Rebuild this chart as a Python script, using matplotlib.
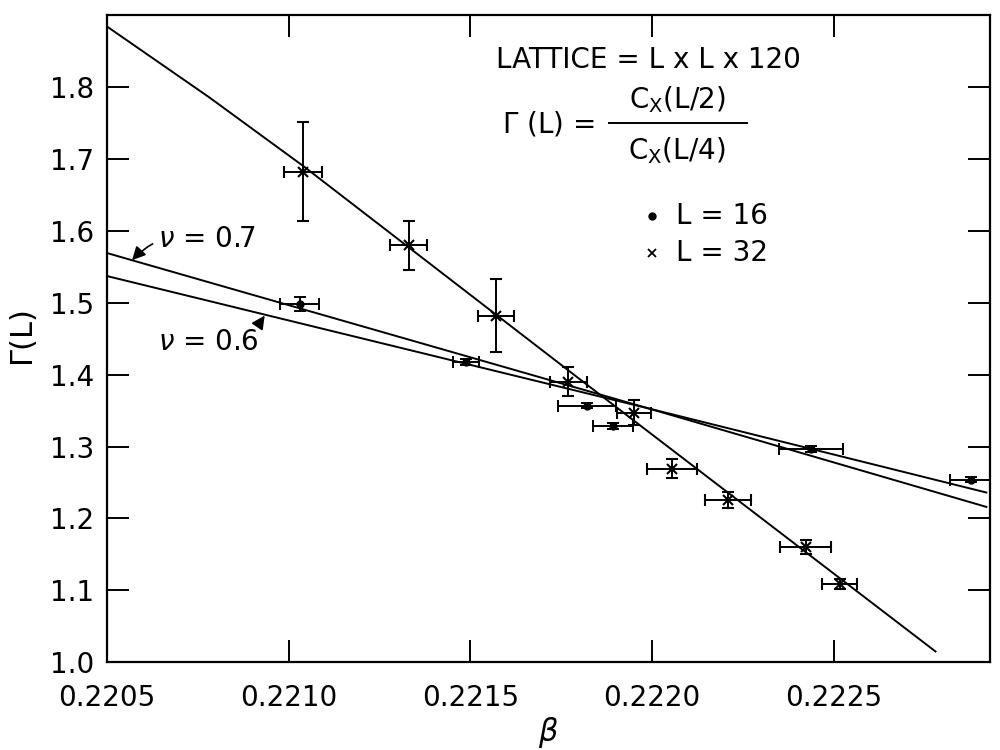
import numpy as np
import matplotlib.pyplot as plt

# L = 32 data (crosses)
beta32 = [0.22104, 0.22133, 0.22157, 0.22177, 0.22195, 0.222055, 0.22221, 0.222423, 0.222516]
gam32 = [1.682, 1.580, 1.482, 1.390, 1.347, 1.269, 1.226, 1.160, 1.109]
gerr32 = [0.069, 0.034, 0.051, 0.020, 0.017, 0.013, 0.011, 0.010, 0.007]
berr32 = [0.000052, 0.00005, 0.00005, 0.00005, 0.000047, 0.00007, 0.000063, 0.00007, 0.000048]

# L = 16 data (dots)
beta16 = [0.22103, 0.221489, 0.221821, 0.221893, 0.222437, 0.222879]
gam16 = [1.498, 1.417, 1.357, 1.329, 1.297, 1.254]
gerr16 = [0.010, 0.004, 0.004, 0.004, 0.004, 0.004]
berr16 = [0.000053, 0.000036, 0.00008, 0.000055, 0.000088, 0.00006]

# fitted curves
fit32_b = [0.2205, 0.22064, 0.22078, 0.22091, 0.22104, 0.2218, 0.22278]
fit32_g = [1.884, 1.835, 1.786, 1.738, 1.690, 1.394, 1.015]
nu07_b = [0.2205, 0.22199, 0.22292]
nu07_g = [1.569, 1.353, 1.216]
nu06_b = [0.2205, 0.22199, 0.22292]
nu06_g = [1.537, 1.353, 1.236]

fig = plt.figure(figsize=(10, 7.5), dpi=100)
ax = fig.add_axes([0.107, 0.117, 0.883, 0.863])

ax.plot(fit32_b, fit32_g, color="black", lw=1.4)
ax.plot(nu07_b, nu07_g, color="black", lw=1.4)
ax.plot(nu06_b, nu06_g, color="black", lw=1.4)

ax.errorbar(beta32, gam32, yerr=gerr32, xerr=berr32, fmt="x", color="black",
            ms=7, mew=1.5, elinewidth=1.4, capsize=4, capthick=1.4)
ax.errorbar(beta16, gam16, yerr=gerr16, xerr=berr16, fmt="o", color="black",
            ms=5, elinewidth=1.4, capsize=4, capthick=1.4)

ax.set_xlim(0.2205, 0.22293)
ax.set_ylim(1.0, 1.9)
ax.set_xticks([0.2205, 0.2210, 0.2215, 0.2220, 0.2225])
ax.set_xticklabels(["0.2205", "0.2210", "0.2215", "0.2220", "0.2225"])
ax.set_yticks([1.0, 1.1, 1.2, 1.3, 1.4, 1.5, 1.6, 1.7, 1.8])
ax.tick_params(direction="in", length=16, width=1.4, labelsize=20,
               top=True, right=True)
ax.tick_params(axis="x", pad=16)
ax.tick_params(axis="y", pad=9)
for s in ax.spines.values():
    s.set_linewidth(1.6)

ax.set_xlabel(r"$\beta$", fontsize=22, labelpad=2)
ax.set_ylabel(r"$\Gamma$(L)", fontsize=22, labelpad=8)

# nu labels with arrows
ax.annotate(r"$\nu$ = 0.7", xy=(0.220569, 1.559), xytext=(0.22064, 1.589),
            fontsize=20, va="center", ha="left",
            arrowprops=dict(arrowstyle="-|>", color="black", lw=1.2,
                            connectionstyle="arc3,rad=0.3", shrinkA=2, shrinkB=0))
ax.annotate(r"$\nu$ = 0.6", xy=(0.220934, 1.482), xytext=(0.22064, 1.446),
            fontsize=20, va="center", ha="left",
            arrowprops=dict(arrowstyle="-|>", color="black", lw=1.2,
                            connectionstyle="arc3,rad=0.3", shrinkA=2, shrinkB=0))

# text block
ax.text(0.221571, 1.837, "LATTICE = L x L x 120", fontsize=20, va="center", ha="left")
ax.text(0.221588, 1.749, r"$\Gamma$ (L) =", fontsize=20, va="center", ha="left")
ax.text(0.222069, 1.782, r"C$_{\rm X}$(L/2)", fontsize=20, va="center", ha="center")
ax.text(0.222069, 1.712, r"C$_{\rm X}$(L/4)", fontsize=20, va="center", ha="center")
ax.plot([0.221882, 0.222261], [1.750, 1.750], color="black", lw=1.4)

ax.plot([0.22200], [1.621], "o", color="black", ms=5)
ax.text(0.222066, 1.621, "L = 16", fontsize=20, va="center", ha="left")
ax.plot([0.22200], [1.569], "x", color="black", ms=6, mew=1.3)
ax.text(0.222066, 1.569, "L = 32", fontsize=20, va="center", ha="left")

fig.savefig("out.png", dpi=100)
